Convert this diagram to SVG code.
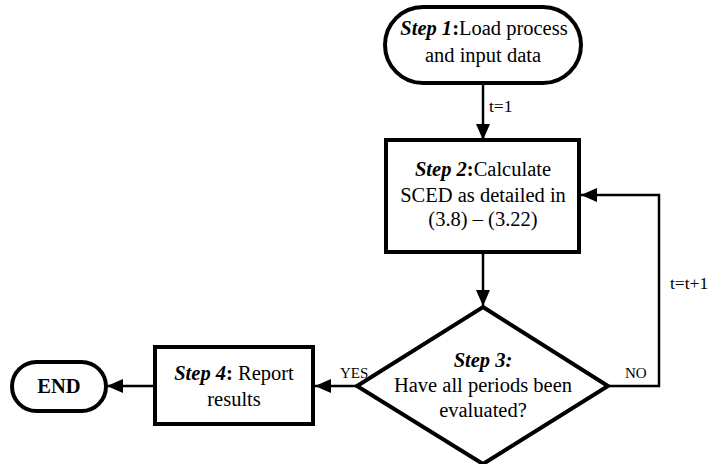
<svg xmlns="http://www.w3.org/2000/svg" width="716" height="464" viewBox="0 0 716 464">
<defs>
<marker id="ah" markerUnits="userSpaceOnUse" markerWidth="18" markerHeight="16" refX="16" refY="7" orient="auto">
<path d="M0,0 L16,7 L0,14 z" fill="#000"/>
</marker>
<style>
.n{fill:#fff;stroke:#000;stroke-width:4}
.c{fill:none;stroke:#000;stroke-width:2.5}
text{font-family:"Liberation Serif","Times New Roman",serif;font-size:20.5px;fill:#000;text-anchor:middle}
.bi{font-weight:bold;font-style:italic}
.b{font-weight:bold}
.s{font-size:17.5px;text-anchor:start}
.sm{font-size:15px;text-anchor:start}
</style>
</defs>
<g id="connectors">
<line class="c" x1="483" y1="83" x2="483" y2="140" marker-end="url(#ah)"/>
<line class="c" x1="483" y1="252" x2="483" y2="306" marker-end="url(#ah)"/>
<polyline class="c" points="608,386 659,386 659,195 581,195" marker-end="url(#ah)"/>
<line class="c" x1="357" y1="386" x2="315" y2="386" marker-end="url(#ah)"/>
<line class="c" x1="155" y1="386" x2="107" y2="386" marker-end="url(#ah)"/>
<text class="s" x="489" y="112">t=1</text>
<text class="s" x="670" y="289">t=t+1</text>
<text class="sm" x="625" y="378">NO</text>
<text class="sm" x="340" y="378">YES</text>
</g>
<g id="step1">
<rect class="n" x="385" y="7" width="196" height="76" rx="38" ry="38"/>
<text x="484" y="35"><tspan class="bi">Step 1</tspan><tspan class="b">:</tspan>Load process</text>
<text x="483" y="62">and input data</text>
</g>
<g id="step2">
<rect class="n" x="386" y="140" width="193" height="112"/>
<text x="483" y="176"><tspan class="bi">Step 2</tspan><tspan class="b">:</tspan>Calculate</text>
<text x="483" y="202">SCED as detailed in</text>
<text x="483" y="226">(3.8) – (3.22)</text>
</g>
<g id="step3">
<polygon class="n" points="483,307 608,386 483,464 357,386"/>
<text class="bi" x="483" y="367">Step 3:</text>
<text x="483" y="392">Have all periods been</text>
<text x="483" y="417">evaluated?</text>
</g>
<g id="step4">
<rect class="n" x="155" y="347" width="158" height="77"/>
<text x="234" y="380"><tspan class="bi">Step 4</tspan><tspan class="b">:</tspan> Report</text>
<text x="234" y="406">results</text>
</g>
<g id="end">
<rect class="n" x="12" y="362" width="94" height="49" rx="24.5" ry="24.5"/>
<text class="b" x="59" y="393">END</text>
</g>
</svg>
